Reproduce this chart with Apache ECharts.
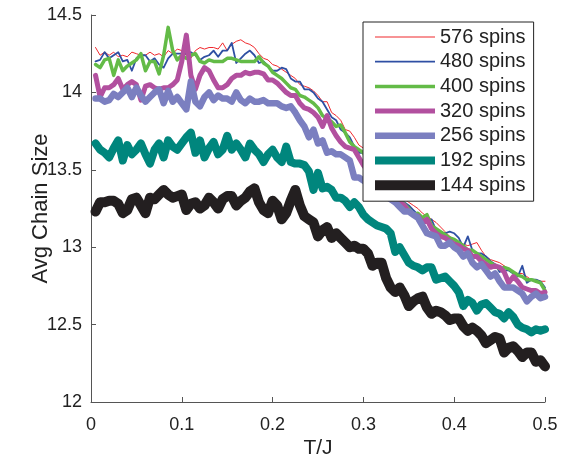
<!DOCTYPE html>
<html><head><meta charset="utf-8">
<script src="https://cdn.jsdelivr.net/npm/echarts@6/dist/echarts.min.js"></script>
<style>html,body{margin:0;padding:0;background:#fff}#c{width:574px;height:464px}</style>
</head><body><div id="c"></div>
<script>
// x grid: T/J from 0.005 to 0.5 in steps of 0.005
const T = Array.from({length: 100}, (_, i) => +(0.005 * (i + 1)).toFixed(3));
const names = ['576 spins','480 spins','400 spins','320 spins','256 spins','192 spins','144 spins'];
const s576 = [14.29,14.24,14.26,14.24,14.26,14.23,14.24,14.23,14.26,14.25,
14.24,14.24,14.26,14.24,14.25,14.23,14.27,14.25,14.28,14.27,
14.24,14.22,14.27,14.29,14.28,14.29,14.29,14.28,14.32,14.27,
14.31,14.33,14.34,14.32,14.31,14.29,14.25,14.22,14.21,14.18,
14.17,14.15,14.13,14.11,14.09,14.05,14.04,14.03,14.01,13.98,
13.94,13.94,13.87,13.85,13.82,13.76,13.75,13.71,13.66,13.64,
13.59,13.55,13.51,13.47,13.43,13.40,13.36,13.34,13.31,13.29,
13.27,13.25,13.22,13.20,13.18,13.16,13.13,13.10,13.07,13.05,
13.03,13.02,13.01,13.02,13.03,12.98,12.94,12.92,12.91,12.90,
12.88,12.86,12.84,12.83,12.83,12.81,12.79,12.79,12.78,12.78];
const s480 = [14.20,14.21,14.26,14.22,14.24,14.26,14.20,14.21,14.14,14.22,
14.24,14.24,14.20,14.22,14.18,14.16,14.22,14.25,14.25,14.25,
14.25,14.26,14.24,14.21,14.23,14.24,14.27,14.23,14.27,14.27,
14.32,14.19,14.22,14.25,14.27,14.24,14.19,14.20,14.17,14.14,
14.14,14.16,14.15,14.09,14.07,14.07,14.02,14.02,14.00,13.96,
13.94,13.89,13.84,13.82,13.76,13.74,13.71,13.65,13.61,13.61,
13.56,13.52,13.49,13.43,13.40,13.36,13.33,13.32,13.29,13.27,
13.24,13.21,13.16,13.16,13.18,13.11,13.09,13.09,13.10,13.09,
13.06,13.00,13.07,12.98,12.96,12.96,12.94,12.91,12.89,12.84,
12.85,12.85,12.83,12.81,12.88,12.77,12.79,12.79,12.78,12.74];
const s400 = [14.18,14.16,14.21,14.22,14.11,14.21,14.14,14.17,14.19,14.21,
14.25,14.14,14.20,14.20,14.12,14.24,14.42,14.27,14.21,14.24,
14.22,14.24,14.25,14.20,14.19,14.21,14.20,14.20,14.20,14.22,
14.22,14.21,14.20,14.20,14.20,14.20,14.23,14.19,14.17,14.13,
14.11,14.09,14.06,14.03,14.02,13.98,13.97,13.95,13.93,13.90,
13.85,13.83,13.81,13.78,13.79,13.74,13.68,13.65,13.63,13.61,
13.56,13.53,13.49,13.43,13.40,13.34,13.32,13.30,13.28,13.25,
13.21,13.22,13.19,13.21,13.14,13.12,13.10,13.08,13.06,13.05,
13.03,13.01,12.98,12.98,12.96,12.94,12.92,12.90,12.88,12.86,
12.87,12.86,12.84,12.82,12.81,12.79,12.79,12.78,12.77,12.72];
const s320 = [14.11,13.97,14.03,14.03,14.05,14.09,14.02,14.05,14.07,14.05,
13.95,14.04,14.05,14.03,14.02,14.03,14.03,14.05,14.08,14.20,
14.37,14.11,14.02,14.11,14.16,14.14,14.08,14.03,14.03,14.05,
14.09,14.11,14.11,14.13,14.12,14.13,14.13,14.12,14.08,14.08,
14.06,14.03,14.00,13.98,13.98,13.93,13.90,13.89,13.87,13.84,
13.78,13.85,13.77,13.72,13.68,13.65,13.64,13.63,13.58,13.53,
13.49,13.46,13.42,13.40,13.36,13.31,13.30,13.29,13.27,13.23,
13.21,13.20,13.16,13.18,13.12,13.09,13.07,13.06,13.04,13.02,
13.01,12.99,12.98,12.94,12.94,12.91,12.89,12.87,12.88,12.87,
12.84,12.77,12.81,12.78,12.74,12.73,12.72,12.72,12.70,12.71];
const s256 = [13.96,13.96,13.94,13.95,13.99,13.97,14.00,14.03,13.97,14.03,
13.98,13.94,13.97,14.00,14.02,13.93,14.01,13.94,13.97,13.93,
13.89,14.07,13.94,13.91,13.97,14.00,13.95,13.98,13.96,13.96,
13.94,14.00,13.95,13.93,13.96,13.94,13.94,13.95,13.93,13.93,
13.93,13.91,13.90,13.91,13.87,13.82,13.78,13.71,13.76,13.67,
13.69,13.61,13.62,13.60,13.60,13.58,13.56,13.45,13.45,13.43,
13.41,13.38,13.37,13.35,13.33,13.31,13.29,13.26,13.23,13.23,
13.21,13.19,13.14,13.09,13.08,13.07,13.01,13.01,13.03,13.00,
12.98,12.94,12.96,12.90,12.87,12.89,12.85,12.81,12.83,12.78,
12.74,12.74,12.74,12.72,12.70,12.65,12.68,12.70,12.67,12.68];
const s192 = [13.67,13.63,13.61,13.58,13.64,13.69,13.56,13.66,13.60,13.63,
13.67,13.60,13.54,13.63,13.67,13.58,13.69,13.65,13.63,13.67,
13.71,13.74,13.61,13.69,13.58,13.64,13.68,13.60,13.63,13.72,
13.63,13.67,13.63,13.58,13.67,13.63,13.60,13.55,13.60,13.63,
13.58,13.55,13.65,13.55,13.54,13.54,13.53,13.49,13.37,13.48,
13.38,13.39,13.37,13.32,13.32,13.30,13.26,13.29,13.26,13.21,
13.18,13.16,13.14,13.13,13.12,13.09,12.97,13.00,12.95,12.90,
12.88,12.87,12.85,12.87,12.87,12.79,12.80,12.81,12.78,12.75,
12.71,12.62,12.66,12.64,12.59,12.63,12.64,12.61,12.58,12.57,
12.54,12.58,12.55,12.50,12.48,12.47,12.45,12.47,12.46,12.47];
const s144 = [13.23,13.29,13.29,13.30,13.30,13.28,13.22,13.24,13.31,13.32,
13.27,13.22,13.32,13.31,13.34,13.37,13.34,13.32,13.33,13.34,
13.24,13.28,13.29,13.25,13.27,13.32,13.29,13.25,13.31,13.33,
13.33,13.27,13.30,13.32,13.36,13.38,13.29,13.24,13.22,13.30,
13.27,13.18,13.22,13.30,13.37,13.27,13.20,13.18,13.16,13.07,
13.11,13.13,13.06,13.09,13.06,13.03,13.00,13.01,12.99,12.99,
12.96,12.88,12.90,12.90,12.80,12.74,12.71,12.74,12.69,12.62,
12.65,12.67,12.68,12.61,12.57,12.59,12.58,12.56,12.53,12.54,
12.54,12.49,12.46,12.48,12.46,12.43,12.38,12.40,12.42,12.41,
12.32,12.35,12.36,12.33,12.29,12.32,12.32,12.26,12.27,12.23];

const values = [s576, s480, s400, s320, s256, s192, s144];
const colors = ['#f0282d','#2f4fa3','#63bb47','#b2509f','#7b7fc0','#00867d','#231f20'];
const widths = [1, 1.8, 3.5, 5, 6.5, 8, 10];
const FONT = 'Liberation Sans, Arial, Helvetica, sans-serif';

const series = names.map((n, k) => ({
  name: n, type: 'line', symbol: 'none', animation: false,
  data: T.map((t, i) => [t, values[k][i]]),
  lineStyle: {color: colors[k], width: widths[k], cap: 'round', join: 'round'},
  itemStyle: {color: colors[k]}
}));

const chart = echarts.init(document.getElementById('c'), null, {renderer: 'canvas'});
chart.setOption({
  backgroundColor: '#fff',
  animation: false,
  grid: {left: 91, right: 29, top: 15, bottom: 62},
  xAxis: {
    type: 'value', min: 0, max: 0.5, interval: 0.1,
    name: 'T/J', nameLocation: 'middle', nameGap: 36, nameMoveOverlap: false,
    nameTextStyle: {fontFamily: FONT, fontSize: 21, color: '#222'},
    axisLine: {lineStyle: {color: '#555', width: 1}},
    axisTick: {inside: true, length: 5, lineStyle: {color: '#555'}},
    axisLabel: {fontFamily: FONT, fontSize: 18, color: '#222', margin: 14,
      formatter: v => String(+v.toFixed(1))},
    splitLine: {show: false}
  },
  yAxis: {
    type: 'value', min: 12, max: 14.5, interval: 0.5,
    name: 'Avg Chain Size', nameLocation: 'middle', nameGap: 39, nameMoveOverlap: false,
    nameTextStyle: {fontFamily: FONT, fontSize: 22, color: '#222'},
    axisLine: {show: true, lineStyle: {color: '#555', width: 1}},
    axisTick: {show: true, inside: true, length: 5, lineStyle: {color: '#555'}},
    axisLabel: {fontFamily: FONT, fontSize: 18, color: '#222', margin: 9,
      formatter: v => String(+v.toFixed(1))},
    splitLine: {show: false}
  },
  legend: {
    orient: 'vertical', left: 363, top: 22,
    backgroundColor: '#fff', borderColor: '#222', borderWidth: 1,
    padding: [5, 8, 6, 12], itemGap: 4.7, itemWidth: 60, itemHeight: 14,
    textStyle: {fontFamily: FONT, fontSize: 20, color: '#222'},
    data: names.map((n, k) => ({
      name: n,
      icon: 'path://M0,0H60V' + widths[k] + 'H0Z',
      itemStyle: {color: colors[k]}
    }))
  },
  series: series
});
</script></body></html>
